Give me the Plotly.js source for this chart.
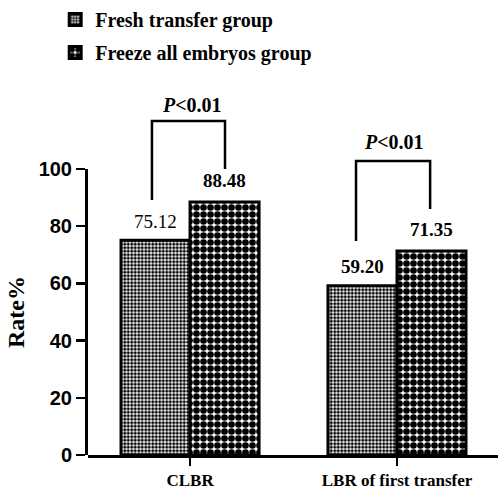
<!DOCTYPE html>
<html>
<head>
<meta charset="utf-8">
<script src="https://cdn.plot.ly/plotly-3.0.1.min.js"></script>
<style>html,body{margin:0;padding:0;background:#fff;}#chart{width:498px;height:492px;}</style>
</head>
<body>
<div id="chart"></div>
<script>
var categories = ["CLBR", "LBR of first transfer"];
var seriesNames = ["Fresh transfer group", "Freeze all embryos group"];
var freshValues = [75.12, 59.20];
var freezeValues = [88.48, 71.35];
var freshLabels = ["75.12", "59.20"];
var freezeLabels = ["88.48", "71.35"];
var yTickVals = [0, 20, 40, 60, 80, 100];
var pText = "<i>P</i><0.01";

var serif = "Liberation Serif";
var sans = "Liberation Sans";

var traces = [
  {
    type: "bar", name: seriesNames[0], x: [0, 1], y: freshValues,
    xaxis: "x", yaxis: "y2", legendgroup: "a",
    marker: {color: "#ffffff", line: {color: "#000", width: 3},
      pattern: {shape: ".", size: 3.5, solidity: 0.6, fgcolor: "#000", bgcolor: "#fff"}},
    hoverinfo: "skip"
  },
  {
    type: "bar", name: seriesNames[1], x: [0, 1], y: freezeValues,
    xaxis: "x", yaxis: "y2", legendgroup: "b",
    marker: {color: "#ffffff", line: {color: "#000", width: 3},
      pattern: {shape: ".", size: 7, solidity: 0.7, fgcolor: "#000", bgcolor: "#fff"}},
    hoverinfo: "skip"
  }
];

var yTop = 455 / 2.86;
var off = 1 / 6;
var annotations = [];
for (var i = 0; i < categories.length; i++) {
  annotations.push({x: i - off, y: freshValues[i], xref: "x", yref: "y2", text: freshLabels[i],
    showarrow: false, yanchor: "middle", yshift: 19,
    font: {family: serif, size: 19, color: "#000", weight: i === 0 ? "normal" : "bold"}});
  annotations.push({x: i + off, y: freezeValues[i], xref: "x", yref: "y2", text: freezeLabels[i],
    showarrow: false, yanchor: "middle", yshift: 21,
    font: {family: serif, size: 19, color: "#000", weight: "bold"}});
}
annotations.push({x: 0.01, y: 122.4, xref: "x", yref: "y", text: pText, showarrow: false,
  font: {family: serif, size: 20, color: "#000", weight: "bold"}});
annotations.push({x: 0.986, y: 109.4, xref: "x", yref: "y", text: pText, showarrow: false,
  font: {family: serif, size: 20, color: "#000", weight: "bold"}});

var br = {color: "#000", width: 2.5};
var shapes = [
  {type: "path", xref: "x", yref: "y", path: "M -0.184,89.2 L -0.184,116.8 L 0.169,116.8 L 0.169,100", line: br},
  {type: "path", xref: "x", yref: "y", path: "M 0.802,74.8 L 0.802,102.8 L 1.160,102.8 L 1.160,86", line: br}
];

var layout = {
  width: 498, height: 492,
  margin: {l: 88, r: 0, t: 0, b: 37},
  paper_bgcolor: "#fff", plot_bgcolor: "#fff",
  barmode: "group", bargap: 0.333, bargroupgap: 0,
  showlegend: true,
  legend: {x: -0.08, y: 1.0, xanchor: "left", yanchor: "top", tracegroupgap: 4,
    font: {family: serif, size: 20, color: "#000", weight: "bold"}, bgcolor: "rgba(0,0,0,0)"},
  xaxis: {
    range: [-0.493, 1.488], anchor: "y", showgrid: false, zeroline: false,
    showline: true, linecolor: "#000", linewidth: 3,
    tickmode: "array", tickvals: [0, 1], ticktext: categories,
    ticks: "outside", ticklen: 8, tickwidth: 2.5, tickcolor: "#000",
    tickfont: {family: serif, size: 17, color: "#000", weight: "bold"}
  },
  yaxis: {range: [0, yTop], domain: [0, 1], visible: false, fixedrange: true},
  yaxis2: {
    range: [0, 100], domain: [0, 100 / yTop], anchor: "x",
    showgrid: false, zeroline: false, showline: true, linecolor: "#000", linewidth: 3,
    tickmode: "array", tickvals: yTickVals,
    ticks: "outside", ticklen: 9, tickwidth: 2.5, tickcolor: "#000",
    tickfont: {family: sans, size: 20, color: "#000", weight: "bold"},
    title: {text: "Rate%", font: {family: serif, size: 24, color: "#000000", weight: "bold"}, standoff: 8}
  },
  annotations: annotations,
  shapes: shapes
};

Plotly.newPlot("chart", traces, layout, {displayModeBar: false, staticPlot: true});
</script>
</body>
</html>
